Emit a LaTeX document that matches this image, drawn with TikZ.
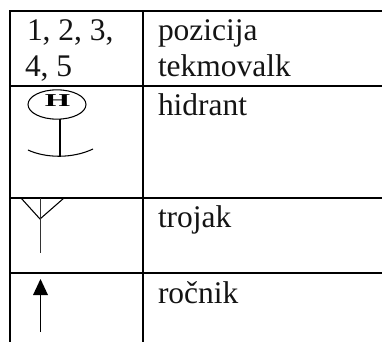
\documentclass[tikz,border=0pt]{standalone}
\usepackage{fontspec}
\setmainfont{Liberation Serif}
\tikzset{
  rule/.style={line width=1.5pt,black},
  sym/.style={line width=0.8pt,black},
  cell/.style={anchor=base west,inner sep=0pt,outer sep=0pt,font=\fontsize{23.6}{28}\selectfont,text=black!92},
  hydrant/.style={draw,ellipse,sym,minimum width=43.5pt,minimum height=22pt,inner sep=0pt},
}
\usetikzlibrary{shapes.geometric,arrows.meta}
\begin{document}
\begin{tikzpicture}[x=0.75pt,y=-0.75pt]
\useasboundingbox (0,0) rectangle (382,342);
\fill[white] (0,0) rectangle (382,342);
% table grid
\draw[rule] (10,342) -- (10,11) -- (382,11);
\draw[rule] (143,11) -- (143,342);
\draw[rule] (10,86) -- (382,86);
\draw[rule] (10,198) -- (382,198);
\draw[rule] (10,273) -- (382,273);
% texts
\node[cell] (n1) at (27,41) {1, 2, 3,};
\node[cell] (n2) at (25,77) {4, 5};
\node[cell] (t1) at (158,41) {pozicija};
\node[cell] (t2) at (158,77) {tekmovalk};
\node[cell] (t3) at (158,116) {hidrant};
\node[cell] (t4) at (158,228) {trojak};
\node[cell] (t5) at (158,303) {ročnik};
% hydrant symbol
\node[hydrant] (hy) at (57,104.5) {};
\node[inner sep=0pt,font=\bfseries\fontsize{13.6}{14}\selectfont,xscale=1.8] (hl) at (57.5,101) {H};
\coordinate (hb) at (60,157);
\coordinate (al) at (28,150);
\coordinate (ar) at (93,149);
\draw[sym] (60,119) -- (hb);
\draw[sym] (al) .. controls (45,158) and (72,159) .. (ar);
% trojak symbol
\coordinate (va) at (21,198);
\coordinate (vb) at (64,198);
\coordinate (vc) at (40,219);
\coordinate (vd) at (40.5,253);
\coordinate (ve) at (40.5,198);
\draw[sym] (va) -- (vc) -- (vb);
\draw[line width=1pt,black!80] (ve) -- (vd);
% arrow symbol
\coordinate (aa) at (40.5,332);
\coordinate (ab) at (40.5,294);
\coordinate (tip) at (40.5,279);
\draw[line width=1.4pt] (aa) -- (ab);
\fill (tip) -- (48,295) -- (33,295) -- cycle;
\end{tikzpicture}
\end{document}
